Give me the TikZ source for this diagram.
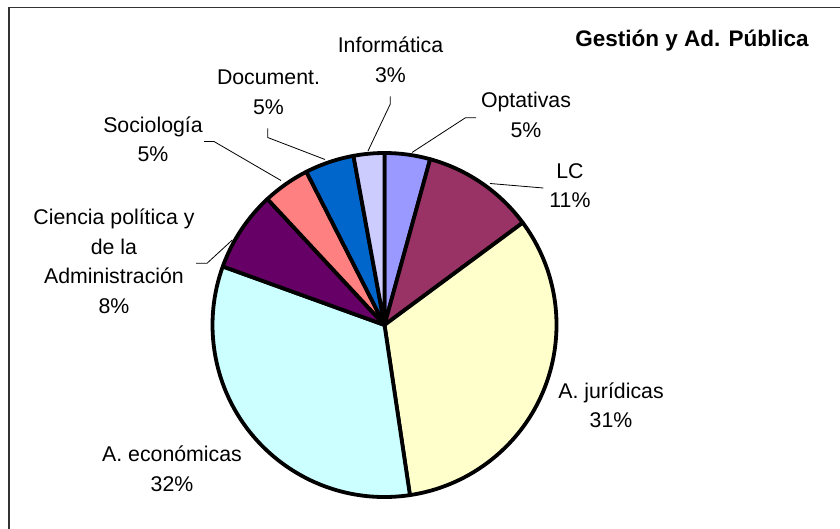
\documentclass[tikz,border=0pt]{standalone}
\usepackage{fontspec}
\setmainfont{Liberation Sans}
\definecolor{cOpt}{HTML}{9999FF}
\definecolor{cLC}{HTML}{993366}
\definecolor{cJur}{HTML}{FFFFCC}
\definecolor{cEco}{HTML}{CCFFFF}
\definecolor{cCie}{HTML}{660066}
\definecolor{cSoc}{HTML}{FF8080}
\definecolor{cDoc}{HTML}{0066CC}
\definecolor{cInf}{HTML}{CCCCFF}
\definecolor{frame}{HTML}{333333}
\begin{document}
\begin{tikzpicture}[x=1pt,y=-1pt,
  slice/.style={draw=black,line width=3.8pt,line join=round},
  lbl/.style={font=\fontsize{21.3}{29.5}\selectfont,align=center,anchor=base,inner sep=0pt},
  leader/.style={draw=black,line width=0.8pt}]
\useasboundingbox (0,0) rectangle (840,529);
\fill[white] (0,0) rectangle (840,529);
\draw[frame,line width=1.5pt] (9,7.5) rectangle (860,550);
\coordinate (c) at (384.5,325);
\def\R{172}
\foreach \a/\b/\col in {-90/-74.6/cOpt, -74.6/-36.5/cLC, -36.5/81.5/cJur, 81.5/199.9/cEco, 199.9/227.1/cCie, 227.1/243/cSoc, 243/259.6/cDoc, 259.6/270/cInf}{
  \filldraw[slice,fill=\col] (c) -- ++(\a:\R) arc[start angle=\a, end angle=\b, radius=\R] -- cycle;
}
\node[font=\fontsize{22.5}{27}\selectfont\bfseries,anchor=base,inner sep=0pt] (title) at (692,47) {Gestión y Ad. Pública};
\node[lbl] (linf) at (390.5,82.3) {Informática\\3\%};
\node[lbl] (lopt) at (526,137.3) {Optativas\\5\%};
\node[lbl] (llc) at (570,208) {LC\\11\%};
\node[lbl] (ljur) at (611,427.5) {A. jurídicas\\31\%};
\node[lbl] (leco) at (172,491) {A. económicas\\32\%};
\node[lbl] (lcie) at (114,313.3) {Ciencia política y\\de la\\Administración\\8\%};
\node[lbl] (lsoc) at (153,161.7) {Sociología\\5\%};
\node[lbl] (ldoc) at (268.5,114.3) {Document.\\5\%};
\coordinate (inf1) at (390.3,96.5);
\coordinate (inf2) at (390.3,104);
\coordinate (inf3) at (368,151);
\coordinate (opt1) at (476,117.7);
\coordinate (opt2) at (465.5,117.7);
\coordinate (opt3) at (412,152.5);
\coordinate (lc1) at (543.3,188);
\coordinate (lc2) at (490,183.5);
\coordinate (doc1) at (267.7,128.5);
\coordinate (doc2) at (267.7,137.5);
\coordinate (doc3) at (325,159.5);
\coordinate (soc1) at (204,141.5);
\coordinate (soc2) at (214,141.5);
\coordinate (soc3) at (281,180.5);
\coordinate (cie1) at (196,263.3);
\coordinate (cie2) at (207,263.3);
\coordinate (cie3) at (232.3,240);
\draw[leader] (inf1) -- (inf2) -- (inf3);
\draw[leader] (opt1) -- (opt2) -- (opt3);
\draw[leader] (lc1) -- (lc2);
\draw[leader] (doc1) -- (doc2) -- (doc3);
\draw[leader] (soc1) -- (soc2) -- (soc3);
\draw[leader] (cie1) -- (cie2) -- (cie3);
\end{tikzpicture}
\end{document}
